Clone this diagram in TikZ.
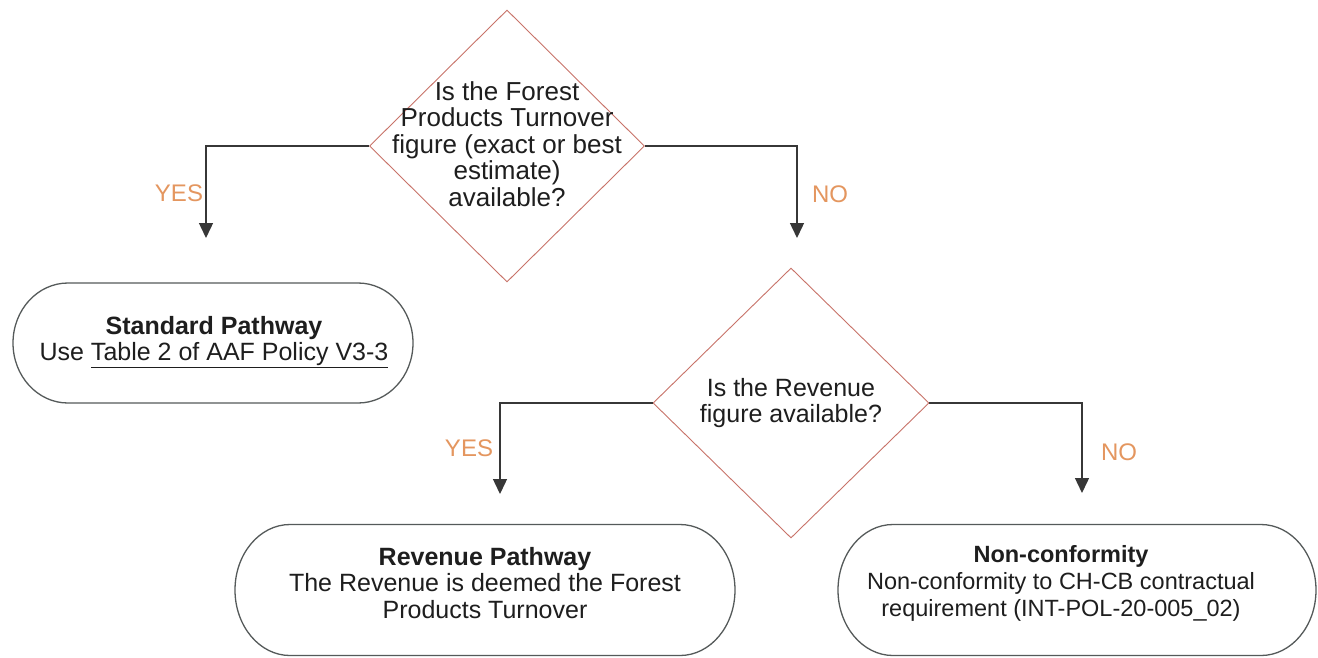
\documentclass[tikz,border=0pt]{standalone}
\usepackage{fontspec}
\setmainfont{Liberation Sans}
\usetikzlibrary{shapes.geometric,arrows.meta}
\definecolor{decred}{RGB}{200,115,105}
\definecolor{labcol}{RGB}{228,150,95}
\definecolor{linecol}{RGB}{55,55,55}
\definecolor{stadcol}{RGB}{85,90,90}
\definecolor{textcol}{RGB}{30,30,30}
\newcommand{\stadoutline}[5]{%
  \draw[stadline] (#1-#3/2+#5, #2-#4/2) -- (#1+#3/2-#5, #2-#4/2)
    arc[start angle=-90, end angle=90, x radius=#5, y radius=#4/2]
    -- (#1-#3/2+#5, #2+#4/2)
    arc[start angle=90, end angle=270, x radius=#5, y radius=#4/2] -- cycle;}
\begin{document}
\begin{tikzpicture}[x=1pt,y=-1pt,
  decision/.style={diamond, draw=decred, line width=0.9pt, inner sep=0pt},
  txt/.style={align=center, text=textcol, font=\fontsize{25}{26.5}\selectfont, inner sep=0pt},
  bigtxt/.style={txt, font=\fontsize{26}{26.5}\selectfont},
  smalltxt/.style={txt, font=\fontsize{23.5}{27}\selectfont},
  stadline/.style={draw=stadcol, line width=1.3pt},
  stadbox/.style={draw=none, inner sep=0pt},
  arr/.style={draw=linecol, line width=1.4pt, -{Triangle[width=14pt,length=15pt]}},
  lab/.style={text=labcol, font=\fontsize{24}{25}\selectfont, inner sep=0pt}]
\useasboundingbox (0,0) rectangle (1318,657);
\fill[white] (0,0) rectangle (1318,657);

% decisions
\node[decision, minimum width=275pt, minimum height=272pt] (d1) at (507,146) {};
\node[bigtxt] (d1t) at (507,144) {Is the Forest\\Products Turnover\\figure (exact or best\\estimate)\\available?};
\node[decision, minimum width=276pt, minimum height=270pt] (d2) at (791,403) {};
\node[txt] (d2t) at (791,403) {Is the Revenue\\figure available?};

% terminators
\stadoutline{213}{343}{400}{120}{55}
\node[txt, stadbox] (std) at (214,342) {\textbf{Standard Pathway}\\Use \underline{Table 2 of AAF Policy V3-3}};
\stadoutline{485}{590}{500}{131}{55}
\node[txt, stadbox] (rev) at (485,583) {\textbf{Revenue Pathway}\\The Revenue is deemed the Forest\\Products Turnover};
\stadoutline{1077}{590}{478}{131}{55}
\node[smalltxt, stadbox] (non) at (1061,583) {\textbf{Non-conformity}\\Non-conformity to CH-CB contractual\\requirement (INT-POL-20-005\_02)};

% arrow ends
\coordinate (e1) at (206,238);
\coordinate (e2) at (797,238);
\coordinate (e3) at (500,494);
\coordinate (e4) at (1082,493);

\draw[arr] (d1.west) -| (e1);
\draw[arr] (d1.east) -| (e2);
\draw[arr] (d2.west) -| (e3);
\draw[arr] (d2.east) -| (e4);

% labels
\node[lab] (l1) at (179,193) {YES};
\node[lab] (l2) at (830,194) {NO};
\node[lab] (l3) at (469,448) {YES};
\node[lab] (l4) at (1119,452) {NO};
\end{tikzpicture}
\end{document}
